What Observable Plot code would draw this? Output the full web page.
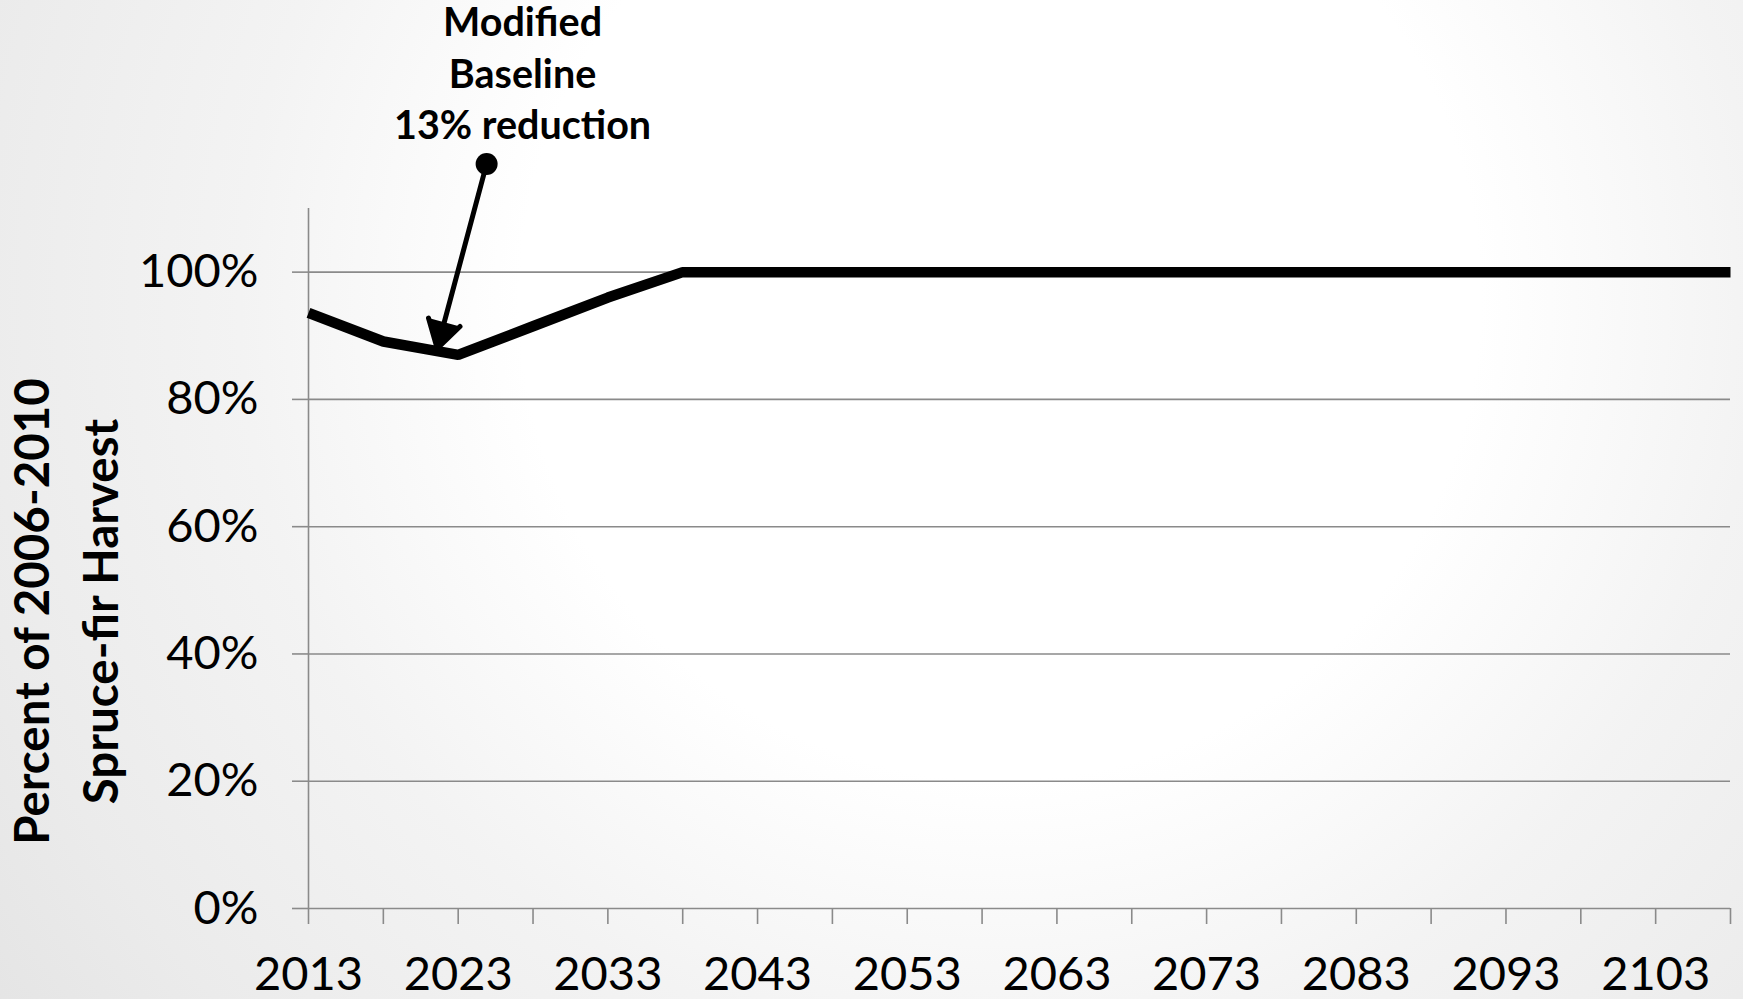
<!DOCTYPE html>
<html>
<head>
<meta charset="utf-8">
<script src="https://cdn.jsdelivr.net/npm/d3@7"></script>
<script src="https://cdn.jsdelivr.net/npm/@observablehq/plot@0.6"></script>
<style>
  html, body { margin: 0; padding: 0; }
  body {
    width: 1743px; height: 999px; overflow: hidden;
    background: radial-gradient(circle 1300px at 1000px 300px, #ffffff 0px, #ffffff 480px, #f3f3f3 760px, #ebebeb 1050px, #e2e2e2 1300px);
    font-family: Lato, "Open Sans", sans-serif;
  }
  svg { background: transparent !important; }
</style>
</head>
<body>
<div id="chart"></div>
<script>
// Spruce-fir harvest as a percent of the 2006-2010 level, 5-year steps
const years = [2013, 2018, 2023, 2028, 2033, 2038, 2043, 2048, 2053, 2058,
               2063, 2068, 2073, 2078, 2083, 2088, 2093, 2098, 2103, 2108];
const harvestPct = [93.6, 89.1, 87, 91.5, 96, 100, 100, 100, 100, 100,
                    100, 100, 100, 100, 100, 100, 100, 100, 100, 100];

// axis ticks and labels
const yTicks = [0, 20, 40, 60, 80, 100];
const xLabelYears = [2013, 2023, 2033, 2043, 2053, 2063, 2073, 2083, 2093, 2103];
const yTitle = "Percent of 2006-2010\nSpruce-fir Harvest";

// callout pointing at the dip
const calloutText = "Modified\nBaseline\n13% reduction";
const calloutLabel = [{x: 2027.3, y: 131.6}];
const calloutArrow = [{x1: 2024.9, y1: 117, x2: 2021.6, y2: 88}];

const series = years.map((year, i) => ({year, pct: harvestPct[i]}));

const gridColor = "#8a8a8a";

const chart = Plot.plot({
  width: 1743,
  height: 999,
  marginLeft: 308,
  marginRight: 13,
  marginTop: 208,
  marginBottom: 91,
  style: {fontFamily: "Lato, 'Open Sans', sans-serif", color: "black", background: "transparent", overflow: "visible"},
  x: {domain: [2013, 2108]},
  y: {domain: [0, 110]},
  marks: [
    // horizontal gridlines with outside tick marks
    Plot.ruleY(yTicks, {stroke: gridColor, strokeWidth: 1.6, x1: 2013, x2: 2108}),
    Plot.axisY({
      ticks: yTicks, tickSize: 16, tickPadding: 34,
      tickFormat: d => d + "%", fontSize: 47, label: null,
      stroke: gridColor, strokeWidth: 1.6, fill: "black"
    }),
    // vertical axis line
    Plot.ruleX([2013], {stroke: gridColor, strokeWidth: 1.6}),
    Plot.axisX({
      ticks: years, tickSize: 16, tickPadding: 32,
      tickFormat: d => xLabelYears.includes(d) ? String(d) : "",
      fontSize: 47, label: null,
      stroke: gridColor, strokeWidth: 1.6, fill: "black"
    }),
    // the harvest series
    Plot.line(series, {
      x: "year", y: "pct", stroke: "black", strokeWidth: 10.5,
      strokeLinejoin: "miter", strokeLinecap: "butt"
    }),
    // callout arrow, dot and label
    Plot.arrow(calloutArrow, {
      x1: "x1", y1: "y1", x2: "x2", y2: "y2",
      stroke: "black", fill: "black", strokeWidth: 5,
      headLength: 9.5, headAngle: 62, strokeLinejoin: "miter"
    }),
    Plot.dot(calloutArrow, {x: "x1", y: "y1", r: 11, fill: "black", stroke: "none"}),
    Plot.text(calloutLabel, {
      x: "x", y: "y", text: () => calloutText,
      fontSize: 39.5, fontWeight: "bold", lineHeight: 1.31,
      textAnchor: "middle", lineAnchor: "middle", fill: "black"
    }),
    // rotated y-axis title
    Plot.text([yTitle], {
      frameAnchor: "left", rotate: -90, dx: -247, dy: 53,
      fontSize: 47.5, fontWeight: "bold", lineHeight: 1.45,
      textAnchor: "middle", lineAnchor: "middle", fill: "black"
    })
  ]
});

document.getElementById("chart").appendChild(chart);
</script>
</body>
</html>
